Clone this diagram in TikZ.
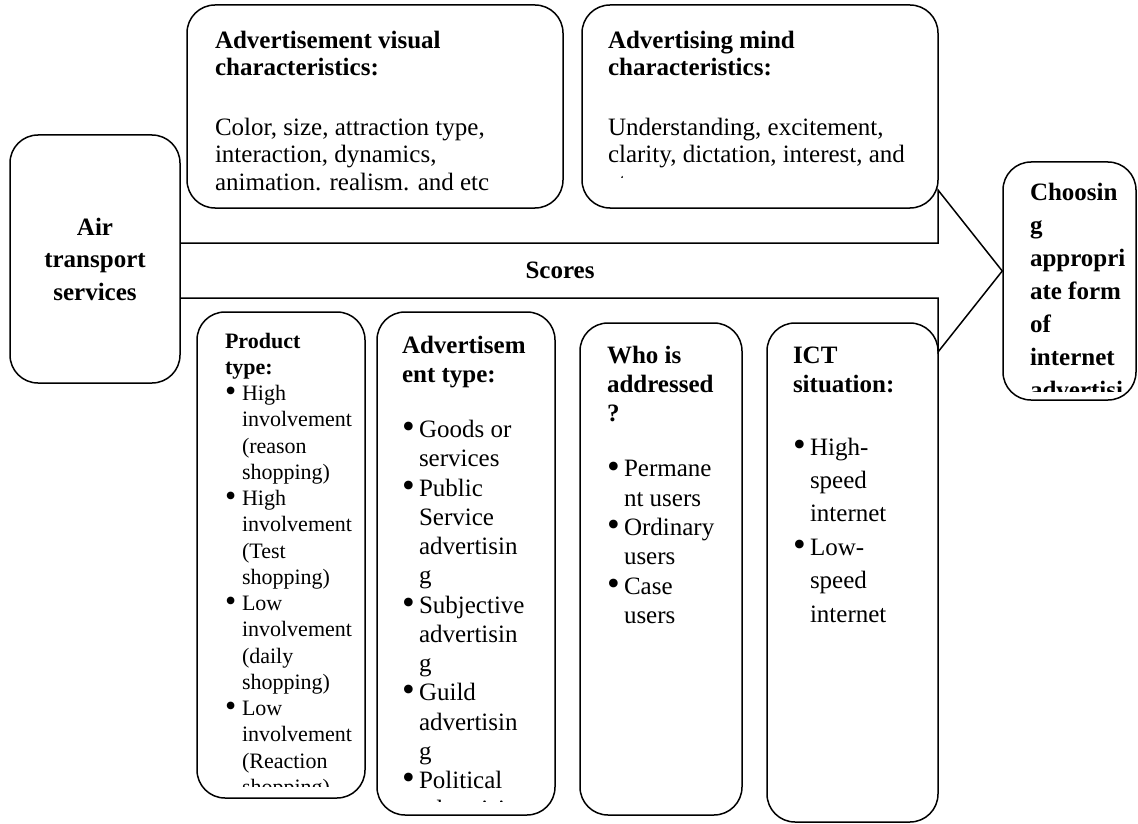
\documentclass[tikz,border=0pt]{standalone}
\usepackage{fontspec}
\setmainfont{Liberation Serif}
\usetikzlibrary{positioning}
\newcommand*{\topstrut}{\rule{0pt}{20pt}}
\newcommand*{\bulletmark}{\makebox[17pt][l]{\raisebox{-1.2pt}{\scalebox{1.45}{\textbullet}}}}
\newcommand*{\hangpad}{\hspace*{17pt}}
\tikzstyle{roundbox}=[draw, line width=1.5pt, rounded corners=28pt, inner sep=0pt]
\tikzstyle{boxtext}=[anchor=north west, inner sep=0pt, outer sep=0pt, align=left, font=\fontsize{25}{27.3}\selectfont]

\begin{document}
\begin{tikzpicture}[x=1pt, y=-1pt]
    \useasboundingbox (0,0) rectangle (1138,824);
    % frames
    \node [roundbox, minimum width=170pt, minimum height=248pt] (air) at (95,259) {};
    \node [roundbox, minimum width=376pt, minimum height=203pt] (vis) at (375,106.5) {};
    \node [roundbox, minimum width=356pt, minimum height=203pt] (mind) at (760,106.5) {};
    \node [roundbox, minimum width=133pt, minimum height=238pt] (choose) at (1069.5,281) {};
    \node [roundbox, minimum width=168pt, minimum height=486pt] (prod) at (281,555) {};
    \node [roundbox, minimum width=178pt, minimum height=503pt] (adtype) at (466,563.5) {};
    \node [roundbox, minimum width=162pt, minimum height=492pt] (who) at (661,569) {};
    \node [roundbox, minimum width=171pt, minimum height=499pt] (ict) at (852.5,572.5) {};
    % big arrow
    \draw [line width=1.5pt, line join=miter]
        (air.east |- 0,243) -- (938,243) -- (938,190) -- (choose.west |- 0,271)
        -- (938,352) -- (938,298) -- (air.east |- 0,298);
    \node [anchor=base, inner sep=0pt, font=\fontsize{25}{30}\selectfont\bfseries] (scores) at (560,278) {Scores};
    % texts (first baseline 20pt below the anchor)
    \node [inner sep=0pt, align=center, font=\fontsize{25}{32.5}\selectfont\bfseries] (airtext) at (air.center) {Air\\transport\\services};
    \node [boxtext] (vistext) at (215,28) {\topstrut\textbf{Advertisement visual}\\\textbf{characteristics:}\\[33pt]Color, size, attraction type,\\interaction, dynamics,\\animation. realism. and etc};
    \begin{scope}
        \clip (582,5) rectangle (938,177);
        \node [boxtext] (mindtext) at (608,28) {\topstrut\textbf{Advertising mind}\\\textbf{characteristics:}\\[33pt]Understanding, excitement,\\clarity, dictation, interest, and\\etc.};
    \end{scope}
    \begin{scope}
        \clip (1003,162) rectangle (1136,391);
        \node [boxtext, font=\fontsize{25}{33}\selectfont\bfseries] (choosetext) at (1030,180) {\topstrut Choosin\\g\\appropri\\ate form\\of\\internet\\advertisi};
    \end{scope}
    \begin{scope}
        \clip (197,312) rectangle (365,786);
        \node [boxtext, font=\fontsize{22}{26.25}\selectfont] (prodtext) at (225,328) {\topstrut\textbf{Product}\\\textbf{type:}\\\bulletmark High\\\hangpad involvement\\\hangpad (reason\\\hangpad shopping)\\\bulletmark High\\\hangpad involvement\\\hangpad (Test\\\hangpad shopping)\\\bulletmark Low\\\hangpad involvement\\\hangpad (daily\\\hangpad shopping)\\\bulletmark Low\\\hangpad involvement\\\hangpad (Reaction\\\hangpad shopping)};
    \end{scope}
    \begin{scope}
        \clip (377,312) rectangle (555,801);
        \node [boxtext, font=\fontsize{25}{29.25}\selectfont] (adtypetext) at (402,333) {\topstrut\textbf{Advertisem}\\\textbf{ent type:}\\[26pt]\bulletmark Goods or\\\hangpad services\\\bulletmark Public\\\hangpad Service\\\hangpad advertisin\\\hangpad g\\\bulletmark Subjective\\\hangpad advertisin\\\hangpad g\\\bulletmark Guild\\\hangpad advertisin\\\hangpad g\\\bulletmark Political\\\hangpad advertising};
    \end{scope}
    \node [boxtext, font=\fontsize{25}{29.3}\selectfont] (whotext) at (607,343) {\topstrut\textbf{Who is}\\\textbf{addressed}\\\textbf{?}\\[26pt]\bulletmark Permane\\\hangpad nt users\\\bulletmark Ordinary\\\hangpad users\\\bulletmark Case\\\hangpad users};
    \node [boxtext, font=\fontsize{25}{29}\selectfont] (icttext) at (793,343) {\topstrut\textbf{ICT}\\\textbf{situation:}\\[34pt]\bulletmark High-\\[4.4pt]\hangpad speed\\[4.4pt]\hangpad internet\\[4.4pt]\bulletmark Low-\\[4.4pt]\hangpad speed\\[4.4pt]\hangpad internet};
\end{tikzpicture}
\end{document}
